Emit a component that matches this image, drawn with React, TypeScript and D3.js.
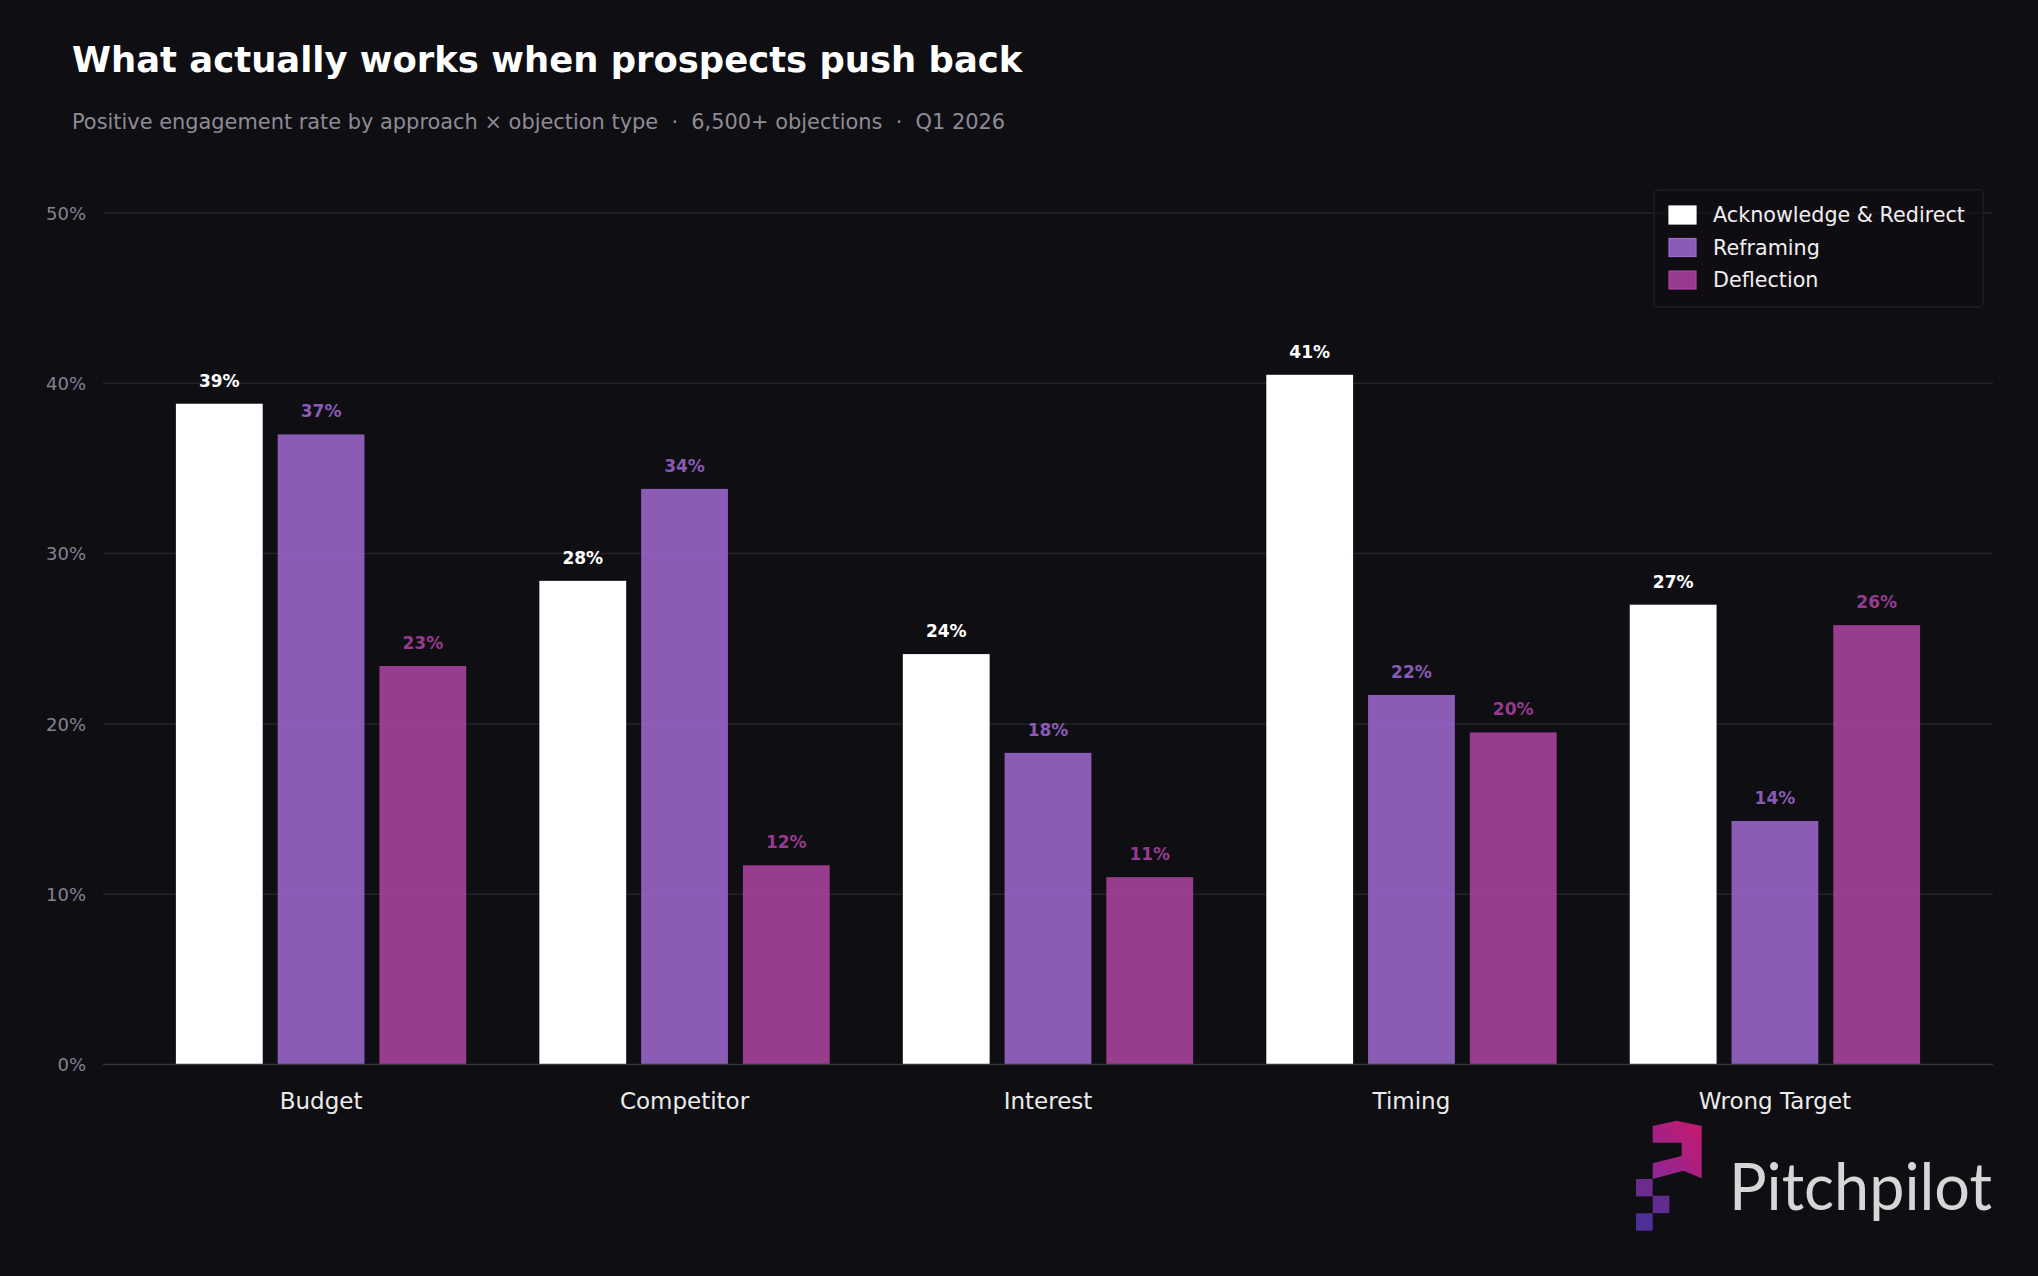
import { useEffect, useRef } from "react";
import * as d3 from "d3";

const categories = ["Budget", "Competitor", "Interest", "Timing", "Wrong Target"];
const seriesNames = ["Acknowledge & Redirect", "Reframing", "Deflection"];

// positive engagement rate (%) per objection type
const acknowledgeRates = [38.8, 28.4, 24.1, 40.5, 27.0];
const reframingRates = [37.0, 33.8, 18.3, 21.7, 14.3];
const deflectionRates = [23.4, 11.7, 11.0, 19.5, 25.8];

const yTicks = [0, 10, 20, 30, 40, 50];

const title = "What actually works when prospects push back";
const subtitle = "Positive engagement rate by approach \u00d7 objection type  \u00b7  6,500+ objections  \u00b7  Q1 2026";

const WIDTH = 2038;
const HEIGHT = 1276;
const BG = "#0f0e13";
const FONT = "'DejaVu Sans', Verdana, sans-serif";

const seriesColors = ["#ffffff", "#a06ad3", "#b044a5"];
const seriesOpacity = [1, 0.85, 0.85];

const App = () => {
    const ref = useRef<SVGSVGElement>(null);

    useEffect(() => {
        document.body.style.margin = "0";
        document.body.style.background = BG;

        const svg = d3.select(ref.current);
        svg.selectAll("*").remove();

        const margin = { top: 213, right: 45, bottom: 211.5, left: 103 };
        const plotRight = WIDTH - margin.right;
        const plotBottom = HEIGHT - margin.bottom;

        const rows = categories.map((c, i) => ({
            category: c,
            values: [acknowledgeRates[i], reframingRates[i], deflectionRates[i]],
        }));

        // Scales
        const x0 = d3.scaleBand()
            .domain(categories)
            .range([margin.left, plotRight])
            .paddingInner(0)
            .paddingOuter(0.1);

        const half = x0.step() * 0.42;
        const x1 = d3.scaleBand()
            .domain(seriesNames)
            .range([-half, half])
            .paddingInner(0.147)
            .paddingOuter(0.0735);

        const y = d3.scaleLinear()
            .domain([0, 50])
            .range([plotBottom, margin.top]);

        svg.append("rect")
            .attr("width", WIDTH)
            .attr("height", HEIGHT)
            .attr("fill", BG);

        // Title + subtitle
        svg.append("text")
            .attr("x", 72)
            .attr("y", 72)
            .attr("fill", "#ffffff")
            .attr("font-family", FONT)
            .attr("font-size", "35.4px")
            .attr("font-weight", "bold")
            .text(title);

        svg.append("text")
            .attr("x", 72)
            .attr("y", 129)
            .attr("fill", "#8e8b96")
            .attr("font-family", FONT)
            .attr("font-size", "20.9px")
            .style("white-space", "pre")
            .text(subtitle);

        // Gridlines
        svg.append("g")
            .selectAll("line")
            .data(yTicks.filter(t => t > 0))
            .enter().append("line")
            .attr("x1", margin.left)
            .attr("x2", plotRight)
            .attr("y1", d => y(d))
            .attr("y2", d => y(d))
            .attr("stroke", "#24222d")
            .attr("stroke-width", 1.5);

        // Y tick labels
        svg.append("g")
            .selectAll("text")
            .data(yTicks)
            .enter().append("text")
            .attr("x", 86)
            .attr("y", d => y(d))
            .attr("dy", "0.38em")
            .attr("text-anchor", "end")
            .attr("fill", "#858290")
            .attr("font-family", FONT)
            .attr("font-size", "18px")
            .text(d => `${d}%`);

        // Bars
        const groups = svg.append("g")
            .selectAll("g")
            .data(rows)
            .enter().append("g")
            .attr("transform", d => `translate(${x0(d.category)! + x0.bandwidth() / 2},0)`);

        groups.selectAll("rect")
            .data(d => d.values.map((v, i) => ({ series: seriesNames[i], idx: i, value: v })))
            .enter().append("rect")
            .attr("x", d => x1(d.series)!)
            .attr("width", x1.bandwidth())
            .attr("y", d => y(d.value))
            .attr("height", d => y(0) - y(d.value))
            .attr("fill", d => seriesColors[d.idx])
            .attr("fill-opacity", d => seriesOpacity[d.idx]);

        // Value labels
        groups.selectAll("text")
            .data(d => d.values.map((v, i) => ({ series: seriesNames[i], idx: i, value: v })))
            .enter().append("text")
            .attr("x", d => x1(d.series)! + x1.bandwidth() / 2)
            .attr("y", d => y(d.value) - 17)
            .attr("text-anchor", "middle")
            .attr("fill", d => seriesColors[d.idx])
            .attr("fill-opacity", d => seriesOpacity[d.idx])
            .attr("font-family", FONT)
            .attr("font-size", "17px")
            .attr("font-weight", "bold")
            .text(d => `${d3.format(".0f")(d.value)}%`);

        // Baseline
        svg.append("line")
            .attr("x1", margin.left)
            .attr("x2", plotRight)
            .attr("y1", y(0))
            .attr("y2", y(0))
            .attr("stroke", "#34323f")
            .attr("stroke-width", 1.5);

        // Category labels
        svg.append("g")
            .selectAll("text")
            .data(categories)
            .enter().append("text")
            .attr("x", d => x0(d)! + x0.bandwidth() / 2)
            .attr("y", 1109)
            .attr("text-anchor", "middle")
            .attr("fill", "#ebebeb")
            .attr("font-family", FONT)
            .attr("font-size", "23px")
            .text(d => d);

        // Legend
        const legend = svg.append("g").attr("transform", "translate(1654,190)");
        legend.append("rect")
            .attr("width", 329)
            .attr("height", 117)
            .attr("rx", 4)
            .attr("fill", BG)
            .attr("fill-opacity", 0.6)
            .attr("stroke", "#1d1c24")
            .attr("stroke-width", 1.5);

        const items = legend.selectAll("g.item")
            .data(seriesNames)
            .enter().append("g")
            .attr("class", "item")
            .attr("transform", (d, i) => `translate(15,${16 + i * 32.5})`);

        items.append("rect")
            .attr("width", 27)
            .attr("height", 18)
            .attr("fill", (d, i) => seriesColors[i])
            .attr("fill-opacity", (d, i) => seriesOpacity[i])
            .attr("stroke", (d, i) => seriesColors[i])
            .attr("stroke-width", 1.2);

        items.append("text")
            .attr("x", 44)
            .attr("y", 16)
            .attr("fill", "#f0f0f0")
            .attr("font-family", FONT)
            .attr("font-size", "20.7px")
            .text(d => d);

        // Pitchpilot logo
        const defs = svg.append("defs");
        const grad = defs.append("linearGradient")
            .attr("id", "flagGrad")
            .attr("x1", "100%").attr("y1", "0%")
            .attr("x2", "0%").attr("y2", "100%");
        grad.append("stop").attr("offset", "0%").attr("stop-color", "#c8186c");
        grad.append("stop").attr("offset", "100%").attr("stop-color", "#8a2896");

        const logo = svg.append("g");
        logo.append("path")
            .attr("d", "M1652.7,1126 L1676.7,1120.7 L1701.7,1126 L1701.7,1178.3 L1683.3,1170.7 L1652.7,1179 Z M1652.7,1142.7 L1681.7,1142.7 L1681.7,1156 L1652.7,1163.3 Z")
            .attr("fill-rule", "evenodd")
            .attr("fill", "url(#flagGrad)");

        const pixels = [
            { x: 1636, y: 1179, c: "#6c2c8e" },
            { x: 1652.7, y: 1195.7, c: "#602c90" },
            { x: 1636, y: 1213.3, c: "#4d2f96" },
        ];
        logo.selectAll("rect")
            .data(pixels)
            .enter().append("rect")
            .attr("x", d => d.x)
            .attr("y", d => d.y)
            .attr("width", 16.7)
            .attr("height", 17.4)
            .attr("fill", d => d.c);

        logo.append("text")
            .attr("x", 1729)
            .attr("y", 1210)
            .attr("fill", "#d6d6d6")
            .attr("font-family", "Lato, 'Open Sans', sans-serif")
            .attr("font-weight", 400)
            .attr("font-size", "66px")
            .attr("textLength", 263)
            .attr("lengthAdjust", "spacingAndGlyphs")
            .text("Pitchpilot");
    }, []);

    return (
        <svg
            ref={ref}
            width={WIDTH}
            height={HEIGHT}
            style={{ display: "block" }}
        />
    );
};

export default App;
